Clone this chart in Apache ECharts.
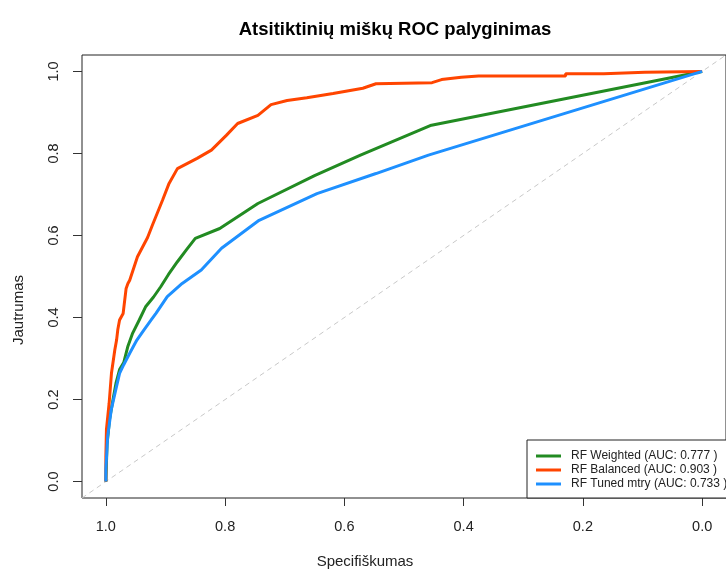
<!DOCTYPE html>
<html>
<head>
<meta charset="utf-8">
<script src="https://cdn.jsdelivr.net/npm/echarts@6/dist/echarts.min.js"></script>
<style>
  html, body { margin: 0; padding: 0; background: #fff; }
  #roc { width: 726px; height: 570px; }
</style>
</head>
<body>
<div id="roc"></div>
<script>
var tickValues = [0, 0.2, 0.4, 0.6, 0.8, 1.0];

// RF Weighted
var specWeighted = [1.0, 0.998, 0.994, 0.988, 0.983, 0.977, 0.970, 0.963, 0.955, 0.944, 0.933, 0.920, 0.908, 0.895, 0.880, 0.865, 0.850, 0.809, 0.745, 0.650, 0.573, 0.456, 0.0];
var sensWeighted = [0.0, 0.09, 0.15, 0.20, 0.24, 0.273, 0.29, 0.33, 0.362, 0.394, 0.427, 0.45, 0.475, 0.505, 0.536, 0.565, 0.593, 0.617, 0.678, 0.746, 0.796, 0.868, 1.0];

// RF Balanced
var specBalanced = [1.0, 1.0, 0.999, 0.9945, 0.9906, 0.985, 0.982, 0.980, 0.977, 0.971, 0.966, 0.963, 0.960, 0.947, 0.930, 0.922, 0.905, 0.894, 0.880, 0.847, 0.823, 0.798, 0.779, 0.745, 0.723, 0.696, 0.663, 0.619, 0.569, 0.547, 0.453, 0.437, 0.404, 0.375, 0.229, 0.229, 0.165, 0.165, 0.096, 0.0];
var sensBalanced = [0.0, 0.062, 0.127, 0.191, 0.264, 0.321, 0.345, 0.370, 0.394, 0.410, 0.471, 0.483, 0.491, 0.548, 0.595, 0.625, 0.686, 0.727, 0.763, 0.788, 0.808, 0.844, 0.873, 0.893, 0.919, 0.929, 0.936, 0.946, 0.959, 0.970, 0.9725, 0.980, 0.986, 0.989, 0.989, 0.994, 0.994, 0.997, 0.998, 1.0];

// RF Tuned mtry
var specTuned = [1.0, 1.0, 0.997, 0.991, 0.984, 0.977, 0.970, 0.960, 0.948, 0.936, 0.924, 0.916, 0.897, 0.872, 0.840, 0.806, 0.743, 0.646, 0.547, 0.459, 0.0];
var sensTuned = [0.0, 0.03, 0.110, 0.175, 0.22, 0.264, 0.285, 0.313, 0.345, 0.370, 0.394, 0.410, 0.451, 0.483, 0.516, 0.569, 0.637, 0.702, 0.751, 0.796, 1.0];

var names = ['RF Weighted (AUC: 0.777 )', 'RF Balanced (AUC: 0.903 )', 'RF Tuned mtry (AUC: 0.733 )'];
var colors = ['#228B22', '#FF4500', '#1E90FF'];

function pairs(xs, ys) {
    return xs.map(function (x, i) { return [x, ys[i]]; });
}

var font = 'Liberation Sans, Arial, sans-serif';
var chart = echarts.init(document.getElementById('roc'));

var option = {
    backgroundColor: '#fff',
    animation: false,
    textStyle: { fontFamily: font },
    title: {
        text: 'Atsitiktinių miškų ROC palyginimas',
        left: 390,
        top: 15,
        textAlign: 'center',
        textStyle: { fontSize: 18.5, fontWeight: 'bold', color: '#000', fontFamily: font }
    },
    grid: {
        left: 82,
        top: 55,
        width: 652,
        height: 443,
        show: true,
        borderColor: '#222',
        borderWidth: 1
    },
    legend: {
        data: names,
        orient: 'vertical',
        left: 527,
        top: 440,
        padding: [9, 20, 7, 9],
        icon: 'rect',
        itemWidth: 25,
        itemHeight: 3,
        itemGap: 0,
        borderColor: '#222',
        borderWidth: 1,
        backgroundColor: '#fff',
        borderRadius: 0,
        textStyle: { fontSize: 12, lineHeight: 14, color: '#222', fontFamily: font, padding: [0, 0, 0, 5] }
    },
    xAxis: {
        type: 'value',
        inverse: true,
        min: -0.04,
        max: 1.04,
        axisLine: { show: false, onZero: false },
        splitLine: { show: false },
        axisTick: { show: true, customValues: tickValues, length: 8, lineStyle: { color: '#333' } },
        axisLabel: {
            customValues: tickValues,
            margin: 21,
            fontSize: 14.5,
            color: '#222',
            fontFamily: font,
            formatter: function (v) { return v.toFixed(1); }
        }
    },
    yAxis: {
        type: 'value',
        min: -0.04,
        max: 1.04,
        axisLine: { show: false, onZero: false },
        splitLine: { show: false },
        axisTick: { show: true, customValues: tickValues, length: 9, lineStyle: { color: '#333' } },
        axisLabel: {
            customValues: tickValues,
            rotate: 90,
            margin: 21,
            fontSize: 14.5,
            color: '#222',
            fontFamily: font,
            formatter: function (v) { return v.toFixed(1); }
        }
    },
    graphic: [
        {
            type: 'text',
            x: 365, y: 562,
            style: { text: 'Specifiškumas', font: '15px ' + font, fill: '#222', textAlign: 'center', textVerticalAlign: 'middle' }
        },
        {
            type: 'text',
            x: 19, y: 310,
            rotation: Math.PI / 2,
            style: { text: 'Jautrumas', font: '15px ' + font, fill: '#222', textAlign: 'center', textVerticalAlign: 'middle' }
        }
    ],
    series: [
        {
            name: 'diagonal',
            type: 'line',
            data: [[1.04, -0.04], [-0.04, 1.04]],
            symbol: 'none',
            silent: true,
            lineStyle: { color: '#c8c8c8', width: 1, type: [5, 4] },
            z: 1
        },
        {
            name: names[0],
            type: 'line',
            data: pairs(specWeighted, sensWeighted),
            symbol: 'none',
            color: colors[0],
            lineStyle: { width: 3, color: colors[0] },
            z: 2
        },
        {
            name: names[1],
            type: 'line',
            data: pairs(specBalanced, sensBalanced),
            symbol: 'none',
            color: colors[1],
            lineStyle: { width: 3, color: colors[1] },
            z: 3
        },
        {
            name: names[2],
            type: 'line',
            data: pairs(specTuned, sensTuned),
            symbol: 'none',
            color: colors[2],
            lineStyle: { width: 3, color: colors[2] },
            z: 4
        }
    ]
};

chart.setOption(option);
</script>
</body>
</html>
